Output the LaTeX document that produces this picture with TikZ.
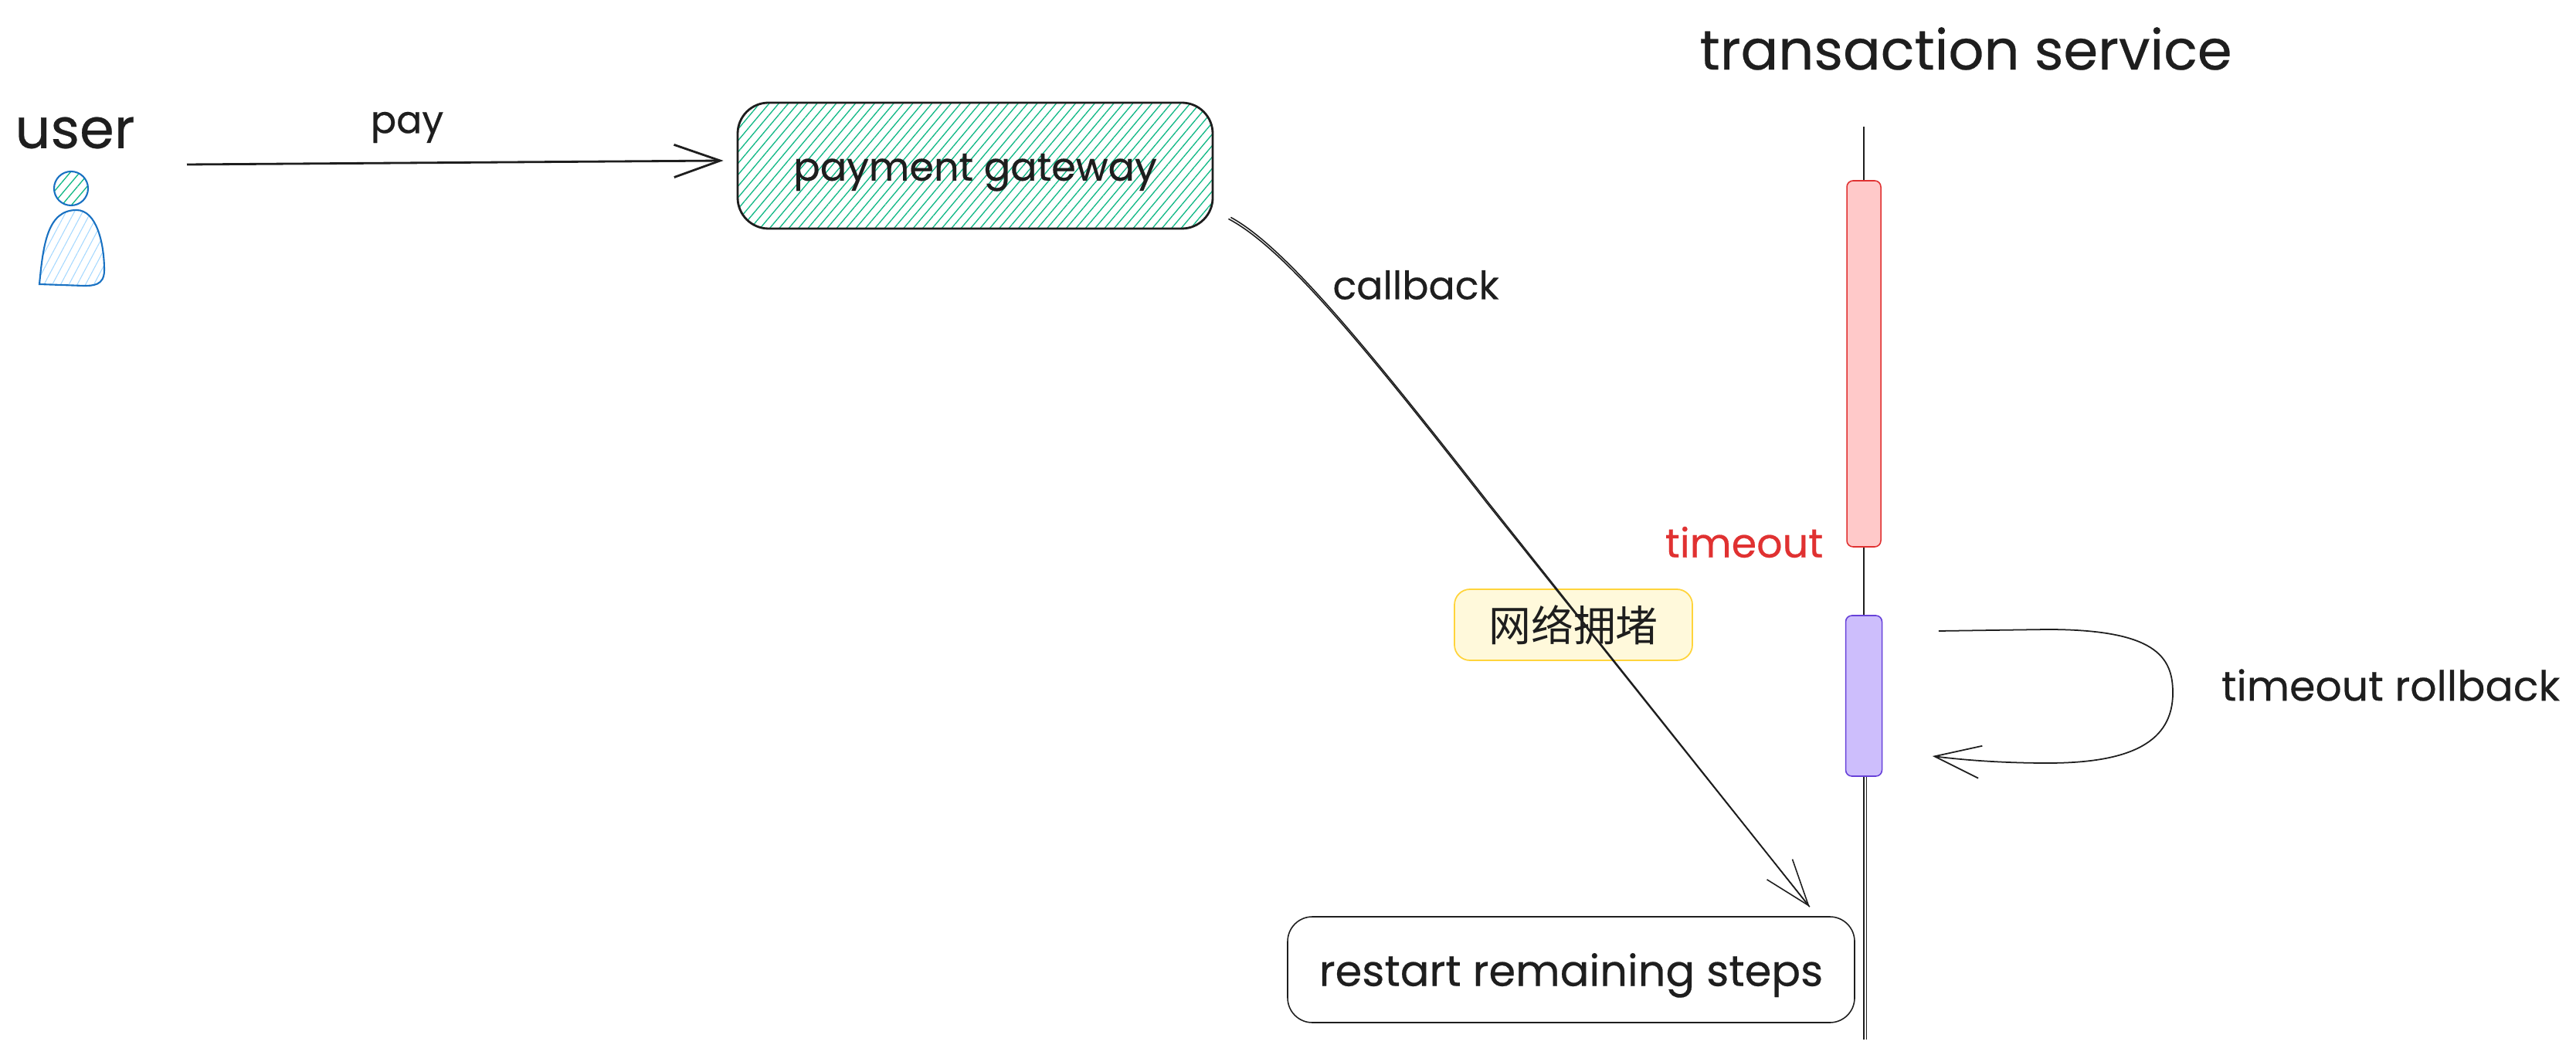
\documentclass[tikz,border=0pt]{standalone}
\usepackage{fontspec}
\setmainfont{Poppins}[FakeBold=.35]
\newfontfamily\cjkfont{Noto Sans CJK SC}
\usetikzlibrary{arrows.meta,patterns.meta}
\definecolor{ink}{HTML}{1E1E1E}
\definecolor{hatchgreen}{HTML}{12B886}
\definecolor{hatchblue}{HTML}{A5D8FF}
\definecolor{userblue}{HTML}{1971C2}
\definecolor{redline}{HTML}{E03131}
\definecolor{redfill}{HTML}{FFC9C9}
\definecolor{violetline}{HTML}{6741D9}
\definecolor{violetfill}{HTML}{CDBEFC}
\definecolor{noteline}{HTML}{FFD43B}
\definecolor{notefill}{HTML}{FFF9DB}
\begin{document}
\begin{tikzpicture}[>={Straight Barb[length=17pt,width=12pt]},
 every node/.style={text=ink,inner sep=0pt},
 txt/.style={font=\fontsize{#1}{16}\selectfont},
 bigtxt/.style={font=\fontsize{20.5}{22}\selectfont},
 boxed/.style={draw=ink,line width=.45pt,rounded corners=.32cm},
 bar/.style={rounded corners=.08cm,line width=.45pt},
 conn/.style={draw=ink,line width=.45pt},
 greenhatch/.style={pattern={Lines[angle=50,distance=2.7pt,line width=.38pt]},pattern color=hatchgreen},
 bluehatch/.style={pattern={Lines[angle=62,distance=2.7pt,line width=.3pt]},pattern color=hatchblue}]
 \useasboundingbox (0,0) rectangle (33.35,13.65);

 % the user figure
 \node[bigtxt] (user) at (.97,11.93) {user};
 \draw[userblue,line width=.6pt,greenhatch] (.92,11.21) ellipse (.22 and .22);
 \draw[userblue,line width=.6pt,bluehatch] (.51,9.97) .. controls (.56,10.5) and (.62,10.93) .. (.99,10.93)
  .. controls (1.25,10.93) and (1.35,10.5) .. (1.35,10.15) .. controls (1.35,9.95) and (1.2,9.95) .. (1.08,9.95) -- cycle;

 \node[txt=14] (pay) at (5.27,12.00) {pay};
 \node[boxed,line width=.8pt,greenhatch,minimum width=6.15cm,minimum height=1.63cm,rounded corners=.4cm,txt=14.5] (gateway) at (12.625,11.505) {\raisebox{-5.5pt}[0pt][0pt]{payment gateway}};
 \node[txt=14.4] (callback) at (18.33,9.96) {callback};
 \node[bigtxt] (service) at (25.45,13.02) {transaction service};

 \coordinate (lifetop) at (24.13,12.01);
 \coordinate (lifebottom) at (24.13,.19);
 \coordinate (payfrom) at (2.42,11.52);

 \node[bar,draw=redline,fill=redfill,minimum width=.44cm,minimum height=4.74cm] (redbar) at (24.13,8.94) {};
 \node[bar,draw=violetline,fill=violetfill,minimum width=.47cm,minimum height=2.08cm] (violetbar) at (24.13,4.64) {};
 \node[txt=14.9,text=redline] (timeout) at (22.58,6.63) {timeout};
 \node[txt=15.3] (rollback) at (30.95,4.78) {timeout rollback};

 \node[draw=noteline,fill=notefill,line width=.5pt,rounded corners=.2cm,minimum width=3.08cm,minimum height=.92cm,font=\cjkfont\fontsize{15.6}{18}\selectfont] (jam) at (20.37,5.56) {网络拥堵};
 \node[boxed,minimum width=7.34cm,minimum height=1.37cm,txt=15.9] (restart) at (20.34,1.095) {\raisebox{-6pt}[0pt][0pt]{restart remaining steps}};

 \foreach \from/\to in
{lifetop/redbar.north,redbar.south/violetbar.north,violetbar.south/lifebottom}
\draw [conn] (\from) -- (\to);
 \draw [conn] ([xshift=1pt]violetbar.south) -- ([xshift=1pt]lifebottom);

 \draw [->,conn,line width=.8pt] (payfrom) -- ([shift={(-.17,.065)}]gateway.west);
 \draw [->,conn] ([shift={(.19,.14)}]gateway.south east) .. controls (16.60,10.45) and (17.60,9.25) .. (19.24,7.15)
  -- ([shift={(-.59,.12)}]restart.north east);
 \draw [conn] ([shift={(.22,.16)}]gateway.south east) .. controls (16.62,10.46) and (17.62,9.25) .. (19.27,7.14)
  -- ([shift={(-.59,.12)}]restart.north east);
 \draw [->,conn,line width=.5pt] ([shift={(.725,.84)}]violetbar.east) -- (26.50,5.50) .. controls (27.90,5.50) and (28.13,5.15) .. (28.13,4.68)
  .. controls (28.13,4.05) and (27.6,3.77) .. (26.51,3.77) .. controls (26,3.77) and (25.5,3.80) .. ([shift={(.645,-.78)}]violetbar.east);
\end{tikzpicture}
\end{document}
